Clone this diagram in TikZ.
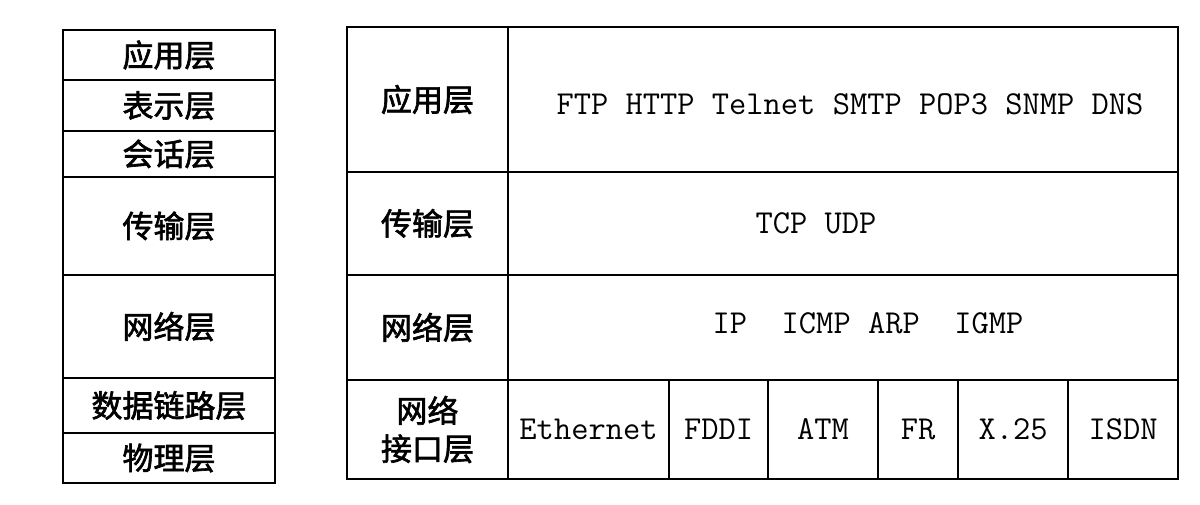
\documentclass[tikz,border=0pt]{standalone}
\usepackage{fontspec}
\newfontfamily\cjkfont[FakeBold=2]{Noto Sans CJK SC}
\usepackage{tikz}
\usetikzlibrary{positioning}
\tikzstyle{cell} = [rectangle, draw=black, line width=2.2pt, inner sep=0pt, outer sep=0pt, anchor=north west, align=center]
\tikzstyle{cjk} = [font=\cjkfont\fontsize{31}{38}\selectfont]
\tikzstyle{proto} = [font=\ttfamily\fontsize{33.5}{36}\selectfont]

\begin{document}
\begin{tikzpicture}[x=1pt, y=-1pt]
    \useasboundingbox (0,0) rectangle (1200,505);
        % OSI stack
        \node (app) [cell, cjk, minimum width=212pt, minimum height=50pt] at (63,30) {应用层};
        \node (pres) [cell, cjk, minimum width=212pt, minimum height=51pt] at (app.south west) {表示层};
        \node (sess) [cell, cjk, minimum width=212pt, minimum height=46pt] at (pres.south west) {会话层};
        \node (trans) [cell, cjk, minimum width=212pt, minimum height=98pt] at (sess.south west) {传输层};
        \node (net) [cell, cjk, minimum width=212pt, minimum height=103pt] at (trans.south west) {网络层};
        \node (link) [cell, cjk, minimum width=212pt, minimum height=55pt] at (net.south west) {数据链路层};
        \node (phys) [cell, cjk, minimum width=212pt, minimum height=50pt] at (link.south west) {物理层};

        % TCP/IP stack
        \node (tapp) [cell, cjk, minimum width=161pt, minimum height=145pt] at (347,27) {应用层};
        \node (tapp p) [cell, minimum width=670pt, minimum height=145pt, at=(tapp.north east),
            label={[proto, xshift=7pt, yshift=-5pt]center:FTP HTTP Telnet SMTP POP3 SNMP DNS}] {};
        \node (ttrans) [cell, cjk, minimum width=161pt, minimum height=103pt] at (tapp.south west) {传输层};
        \node (ttrans p) [cell, minimum width=670pt, minimum height=103pt, at=(ttrans.north east),
            label={[proto, xshift=-27pt]center:TCP UDP}] {};
        \node (tnet) [cell, cjk, minimum width=161pt, minimum height=105pt] at (ttrans.south west) {网络层};
        \node (tnet p) [cell, minimum width=670pt, minimum height=105pt, at=(tnet.north east),
            label={[proto, xshift=25pt, yshift=4pt]center:IP\ \ ICMP ARP\ \ IGMP}] {};
        \node (tif) [cell, cjk, minimum width=161pt, minimum height=99pt] at (tnet.south west) {网络\\接口层};

        \node (eth) [cell, proto, minimum width=161pt, minimum height=99pt] at (tif.north east) {Ethernet};
        \node (fddi) [cell, proto, minimum width=99pt, minimum height=99pt] at (eth.north east) {FDDI};
        \node (atm) [cell, proto, minimum width=110pt, minimum height=99pt] at (fddi.north east) {ATM};
        \node (fr) [cell, proto, minimum width=80pt, minimum height=99pt] at (atm.north east) {FR};
        \node (x25) [cell, proto, minimum width=110pt, minimum height=99pt] at (fr.north east) {X.25};
        \node (isdn) [cell, proto, minimum width=110pt, minimum height=99pt] at (x25.north east) {ISDN};
    \end{tikzpicture}
\end{document}
